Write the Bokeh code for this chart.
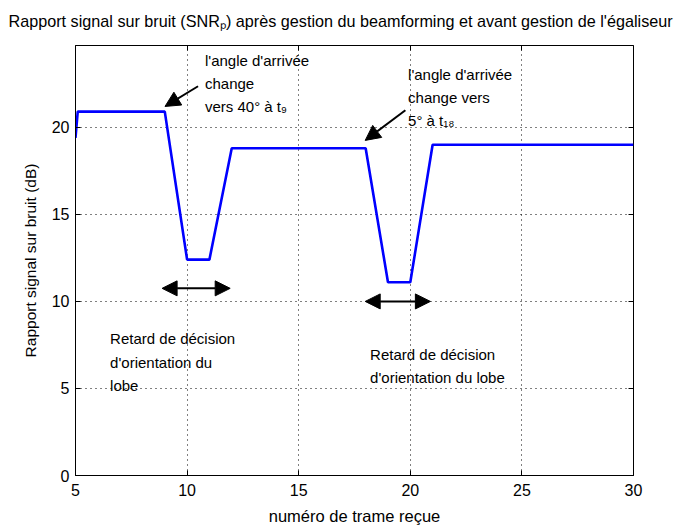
from bokeh.plotting import figure
from bokeh.models import (Range1d, Label, Arrow, NormalHead, LinearAxis, FixedTicker,
                          CustomLabelingPolicy)
from bokeh.embed import file_html
from bokeh.resources import INLINE

# ---- data ----
frame_no = [5, 5.1, 9, 10, 11, 12, 18, 19, 20, 21, 30]
snr_db = [19.4, 20.9, 20.9, 12.4, 12.4, 18.8, 18.8, 11.1, 11.1, 19.0, 19.0]
x_ticks = [5, 10, 15, 20, 25, 30]
y_ticks = [0, 5, 10, 15, 20]

title_text = "Rapport signal sur bruit (SNRₚ) après gestion du beamforming et avant gestion de l'égaliseur"
x_label = "numéro de trame reçue"
y_label = "Rapport signal sur bruit (dB)"
note_1 = "l'angle d'arrivée\nchange\nvers 40° à t₉"
note_2 = "l'angle d'arrivée\nchange vers\n5° à t₁₈"
note_3 = "Retard de décision\nd'orientation du\nlobe"
note_4 = "Retard de décision\nd'orientation du lobe"

FONT = "Liberation Sans"

p = figure(width=692, height=527, output_backend="svg", toolbar_location=None,
           x_range=Range1d(5, 30), y_range=Range1d(0, 24.7),
           min_border_left=75, min_border_right=59, min_border_top=45, min_border_bottom=52)

p.title.text = title_text
p.title.text_font = FONT
p.title.text_font_size = "16.2px"
p.title.text_font_style = "normal"
p.title.align = "left"
p.title.offset = -67
p.title.text_color = "black"

p.outline_line_color = "black"
p.outline_line_width = 1
p.outline_line_alpha = 1

for ax in (p.xaxis[0], p.yaxis[0]):
    ax.major_tick_in = 5
    ax.major_tick_out = 0
    ax.minor_tick_in = 0
    ax.minor_tick_out = 0
    ax.axis_line_color = "black"
    ax.major_tick_line_color = "black"
    ax.major_label_text_font = FONT
    ax.major_label_text_font_size = "16px"
    ax.major_label_text_color = "black"
    ax.axis_label_text_font = FONT
    ax.axis_label_text_font_style = "normal"
    ax.axis_label_text_color = "black"

p.xaxis[0].axis_label_text_font_size = "16.5px"
p.yaxis[0].axis_label_text_font_size = "15.5px"
p.xaxis[0].ticker = FixedTicker(ticks=x_ticks)
p.yaxis[0].ticker = FixedTicker(ticks=y_ticks)
p.xaxis[0].axis_label = x_label
p.yaxis[0].axis_label = y_label
p.xaxis[0].major_label_standoff = 8
p.xaxis[0].axis_label_standoff = 8
p.yaxis[0].major_label_standoff = 6
p.yaxis[0].axis_label_standoff = 10

no_labels = CustomLabelingPolicy(code="for (const i of indices) { indices.unset(i) }\nreturn indices")
for loc, ticks in (("right", y_ticks), ("above", x_ticks)):
    ax = LinearAxis(ticker=FixedTicker(ticks=ticks), major_label_policy=no_labels)
    ax.major_tick_in = 5
    ax.major_tick_out = 0
    ax.minor_tick_in = 0
    ax.minor_tick_out = 0
    ax.major_label_standoff = 0
    ax.axis_line_color = None
    p.add_layout(ax, loc)

p.xgrid.ticker = FixedTicker(ticks=x_ticks)
p.ygrid.ticker = FixedTicker(ticks=y_ticks)
for g in (p.xgrid[0], p.ygrid[0]):
    g.grid_line_color = "black"
    g.grid_line_dash = "1 4"
    g.grid_line_width = 1
    g.grid_line_alpha = 1

p.line(frame_no, snr_db, line_color="#0000ff", line_width=2.6)

# annotations
def note(x, y, t):
    p.add_layout(Label(x=x, y=y, text=t, text_font=FONT, text_font_size="15px",
                       text_baseline="top", text_align="left", text_color="black",
                       text_line_height=1.38))

note(10.8, 24.35, note_1)
note(19.9, 23.55, note_2)
note(6.55, 8.35, note_3)
note(18.2, 7.45, note_4)

def head():
    return NormalHead(size=15, fill_color="black", line_color="black")

p.add_layout(Arrow(end=head(), x_start=10.49, y_start=22.36, x_end=9.01, y_end=21.2,
                   line_width=2, line_color="black"))
p.add_layout(Arrow(end=head(), x_start=19.78, y_start=20.98, x_end=17.98, y_end=19.25,
                   line_width=2, line_color="black"))
p.add_layout(Arrow(start=head(), end=head(), x_start=8.88, y_start=10.75, x_end=11.93, y_end=10.75,
                   line_width=2, line_color="black"))
p.add_layout(Arrow(start=head(), end=head(), x_start=17.98, y_start=10.0, x_end=20.9, y_end=10.0,
                   line_width=2, line_color="black"))

open("out.html", "w").write(file_html(p, INLINE))
